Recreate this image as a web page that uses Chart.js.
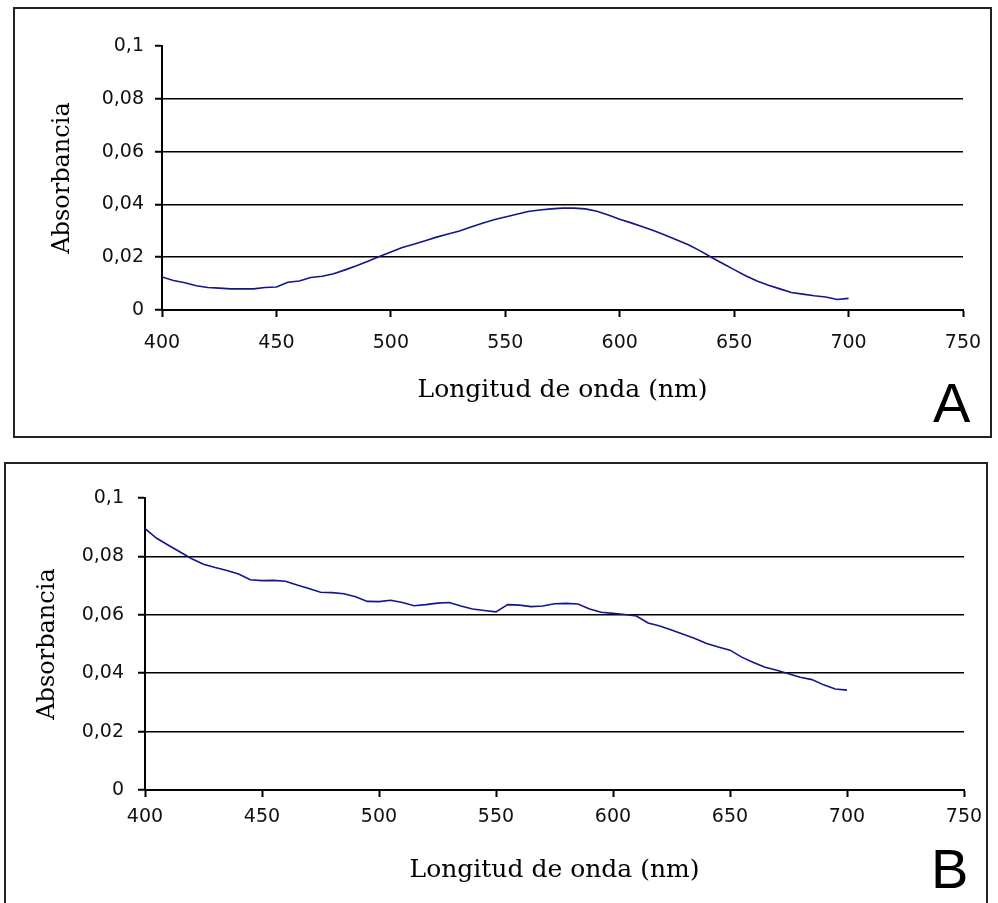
<!DOCTYPE html>
<html>
<head>
<meta charset="utf-8">
<title>Absorbancia</title>
<script src="https://cdn.jsdelivr.net/npm/chart.js@4.4.1/dist/chart.umd.min.js"></script>
<style>
    body { margin: 0; background: #fff; width: 998px; height: 903px; overflow: hidden; position: relative; }
    .panel { position: absolute; box-sizing: border-box; border: 2px solid #222; background: #fff; overflow: hidden; }
    #panelA { left: 13px; top: 7px; width: 979px; height: 431px; }
    #panelB { left: 4px; top: 462px; width: 984px; height: 460px; }
    canvas { position: absolute; left: 0; top: 0; }
</style>
</head>
<body>
<div class="panel" id="panelA"><canvas id="chartA" width="975" height="427"></canvas></div>
<div class="panel" id="panelB"><canvas id="chartB" width="980" height="439"></canvas></div>
<script>
"use strict";

// wavelength (nm), shared by both spectra
var wavelengths = [
    400, 405, 410, 415, 420, 425, 430, 435, 440, 445,
    450, 455, 460, 465, 470, 475, 480, 485, 490, 495,
    500, 505, 510, 515, 520, 525, 530, 535, 540, 545,
    550, 555, 560, 565, 570, 575, 580, 585, 590, 595,
    600, 605, 610, 615, 620, 625, 630, 635, 640, 645,
    650, 655, 660, 665, 670, 675, 680, 685, 690, 695,
    700
];

// spectrum A
var absorbanceA = [
    0.0125, 0.0112, 0.0103, 0.0092, 0.0085, 0.0083, 0.0080, 0.0080, 0.0080, 0.0085,
    0.0087, 0.0105, 0.0110, 0.0123, 0.0128, 0.0137, 0.0152, 0.0168, 0.0185, 0.0203,
    0.0220, 0.0237, 0.0249, 0.0262, 0.0276, 0.0288, 0.0299, 0.0314, 0.0329, 0.0342,
    0.0352, 0.0363, 0.0373, 0.0379, 0.0383, 0.0386, 0.0386, 0.0383, 0.0374, 0.0360,
    0.0344, 0.0330, 0.0315, 0.0300, 0.0283, 0.0265, 0.0247, 0.0225, 0.0200, 0.0176,
    0.0153, 0.0130, 0.0110, 0.0094, 0.0080, 0.0066, 0.0060, 0.0054, 0.0049, 0.0040,
    0.0044
];

// spectrum B
var absorbanceB = [
    0.0895, 0.0862, 0.0838, 0.0815, 0.0792, 0.0773, 0.0762, 0.0752, 0.0740, 0.0720,
    0.0717, 0.0718, 0.0715, 0.0702, 0.0690, 0.0677, 0.0676, 0.0672, 0.0662, 0.0646,
    0.0645, 0.0650, 0.0642, 0.0631, 0.0635, 0.0640, 0.0642, 0.0630, 0.0620, 0.0615,
    0.0610, 0.0635, 0.0633, 0.0628, 0.0630, 0.0638, 0.0639, 0.0637, 0.0620, 0.0609,
    0.0605, 0.0601, 0.0596, 0.0572, 0.0562, 0.0548, 0.0533, 0.0519, 0.0502, 0.0490,
    0.0479, 0.0455, 0.0437, 0.0420, 0.0410, 0.0398, 0.0386, 0.0378, 0.0360, 0.0346,
    0.0342
];

var xTitle = 'Longitud de onda (nm)';
var yTitle = 'Absorbancia';

var tickFont = { family: '"DejaVu Sans", Verdana, sans-serif', size: 19 };
var titleFont = { family: '"DejaVu Serif", serif', size: 25 };

// draws the big panel letter (A / B)
var panelLetter = {
    id: 'panelLetter',
    afterDraw: function (chart, args, opts) {
        var ctx = chart.ctx;
        ctx.save();
        ctx.font = '56px "Liberation Sans", Arial, sans-serif';
        ctx.fillStyle = '#000';
        ctx.textBaseline = 'alphabetic';
        ctx.textAlign = 'left';
        ctx.fillText(opts.text, opts.x, opts.y);
        ctx.restore();
    }
};

function commaLabel(v) {
    if (v === 0) return '0';
    return String(+v.toFixed(2)).replace('.', ',');
}

function makePanel(canvasId, values, g) {
    var points = [];
    for (var i = 0; i < wavelengths.length; i++) {
        points.push({ x: wavelengths[i], y: values[i] });
    }

    return new Chart(document.getElementById(canvasId), {
        type: 'line',
        data: {
            datasets: [{
                data: points,
                borderColor: '#14148c',
                borderWidth: 1.6,
                pointRadius: 0,
                tension: 0,
                fill: false
            }]
        },
        options: {
            responsive: false,
            animation: false,
            events: [],
            layout: { padding: { top: g.padTop, right: g.padRight, left: 0, bottom: 0 } },
            plugins: {
                legend: { display: false },
                tooltip: { enabled: false },
                panelLetter: { text: g.letter, x: g.letterX, y: g.letterY }
            },
            scales: {
                x: {
                    type: 'linear',
                    min: 400,
                    max: 750,
                    afterFit: function (scale) {
                        scale.height = g.xAxisHeight;
                        // plot edges come from layout padding only
                        scale.paddingLeft = 0;
                        scale.paddingRight = 0;
                    },
                    ticks: {
                        stepSize: 50,
                        maxRotation: 0,
                        padding: g.xTickPad,
                        color: '#111',
                        font: tickFont
                    },
                    grid: {
                        drawOnChartArea: false,
                        tickLength: 7,
                        tickColor: '#000',
                        tickWidth: 2
                    },
                    border: { display: true, color: '#000', width: 2 },
                    title: {
                        display: true,
                        text: xTitle,
                        color: '#000',
                        font: titleFont,
                        padding: { top: 0, bottom: g.xTitlePad }
                    }
                },
                y: {
                    min: 0,
                    max: 0.1,
                    afterFit: function (scale) {
                        scale.width = g.yAxisWidth;
                        scale.paddingTop = 0;
                        scale.paddingBottom = 0;
                    },
                    ticks: {
                        stepSize: 0.02,
                        padding: g.yTickPad,
                        color: '#111',
                        font: tickFont,
                        callback: commaLabel
                    },
                    grid: {
                        color: function (c) {
                            return (c.tick && c.tick.value > 0.09) ? 'rgba(0,0,0,0)' : '#000';
                        },
                        lineWidth: 1.5,
                        tickLength: 7,
                        tickColor: '#000',
                        tickWidth: 2
                    },
                    border: { display: true, color: '#000', width: 2 },
                    title: {
                        display: true,
                        text: yTitle,
                        color: '#000',
                        font: { family: titleFont.family, size: 24 },
                        padding: { top: g.yTitlePad, bottom: 0 }
                    }
                }
            }
        },
        plugins: [panelLetter]
    });
}

makePanel('chartA', absorbanceA, {
    padTop: 37, padRight: 27, yAxisWidth: 147, xAxisHeight: 126,
    yTickPad: 11, xTickPad: 15, yTitlePad: 33, xTitlePad: 31,
    letter: 'A', letterX: 918, letterY: 413
});

makePanel('chartB', absorbanceB, {
    padTop: 34, padRight: 22, yAxisWidth: 139, xAxisHeight: 113,
    yTickPad: 14, xTickPad: 9, yTitlePad: 27, xTitlePad: 18,
    letter: 'B', letterX: 925, letterY: 424
});
</script>
</body>
</html>
